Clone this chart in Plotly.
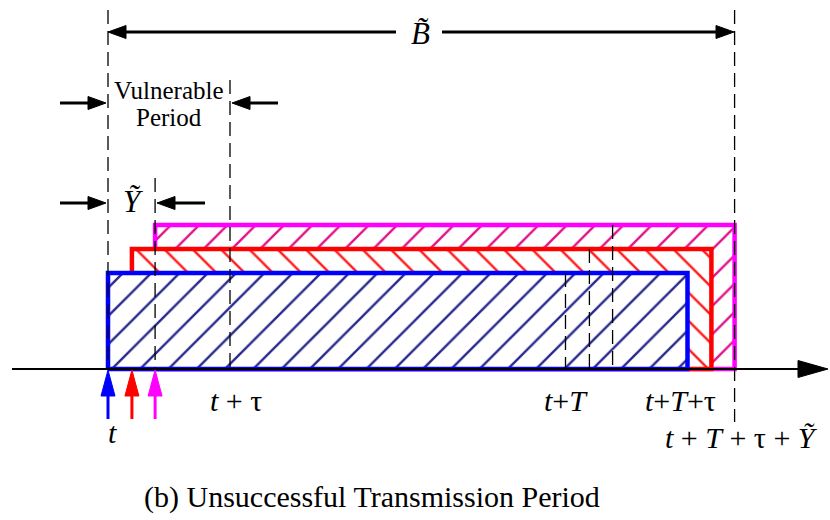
import math
import plotly.graph_objects as go

# ---- timing quantities (one unit = one time slot) ----
tau = 5.0                 # propagation delay
T = 18.75                 # packet transmission time
y_tilde = 1.93            # last colliding start offset
start_offsets = [0.0, 0.98, 1.93]      # blue, red, magenta packet starts
packet_heights = [4.0, 5.0, 6.0]       # drawing heights of the stacked packets
packet_names = ["packet 1", "packet 2", "packet 3"]
outline_colors = ["#0000ff", "#ff0000", "#ff00ff"]
hatch_colors = ["#2a2a8c", "#ff1a1a", "#e0148a"]
hatch_shapes = ["/", "\\", "/"]

# ---- canvas / scale ----
W, H = 830, 520
X0_PX, AXIS_PX = 108, 369
SX, SY = 24.4, 24.0


def dx(px):
    return (px - X0_PX) / SX


def dy(py):
    return (AXIS_PX - py) / SY


fig = go.Figure()

# packets, drawn back to front so the outer L-shaped hatch stays visible
for i in reversed(range(3)):
    s = start_offsets[i]
    e = s + T + tau
    h = packet_heights[i]
    fig.add_trace(go.Scatter(
        x=[s, e, e, s, s], y=[0, 0, h, h, 0],
        mode="lines", fill="toself", name=packet_names[i],
        line=dict(color=outline_colors[i], width=4.5),
        fillcolor="white",
        fillpattern=dict(shape=hatch_shapes[i], fgcolor=hatch_colors[i],
                         fgopacity=1, bgcolor="white", size=20, solidity=0.12),
        hoverinfo="skip", showlegend=False,
    ))

shapes = []
DASH = "14px,7px"


def vdash(x, y_top, y_bot):
    shapes.append(dict(type="line", x0=x, x1=x, y0=y_top, y1=y_bot,
                       line=dict(color="black", width=1.3, dash=DASH)))


end_time = T + tau + y_tilde
vdash(0.0, dy(10), 0)
vdash(tau, dy(80), 0)
vdash(y_tilde, dy(178), 0)
vdash(end_time, dy(10), dy(422))
for s, h in zip(start_offsets, packet_heights):
    vdash(s + T, h, 0)


def arrow(x_from, y_from, x_to, y_to, color="black", width=3, head_len=16, head_half=6):
    """Arrow in pixel coordinates, converted to data coordinates."""
    L = math.hypot(x_to - x_from, y_to - y_from)
    ux, uy = (x_to - x_from) / L, (y_to - y_from) / L
    bx, by = x_to - ux * head_len, y_to - uy * head_len
    shapes.append(dict(type="line", x0=dx(x_from), y0=dy(y_from), x1=dx(bx), y1=dy(by),
                       line=dict(color=color, width=width)))
    px_, py_ = -uy, ux
    pts = [(x_to, y_to), (bx + px_ * head_half, by + py_ * head_half),
           (bx - px_ * head_half, by - py_ * head_half)]
    path = "M " + " L ".join(f"{dx(a):.4f},{dy(b):.4f}" for a, b in pts) + " Z"
    shapes.append(dict(type="path", path=path, fillcolor=color,
                       line=dict(color=color, width=1)))


# time axis
shapes.append(dict(type="line", x0=dx(12), x1=dx(800), y0=0, y1=0,
                   line=dict(color="black", width=2)))
arrow(790, AXIS_PX, 828, AXIS_PX, width=2, head_len=30, head_half=8.5)

# busy period B
arrow(396, 32, 108, 32, head_len=18, head_half=6.5)
arrow(442, 32, 734, 32, head_len=18, head_half=6.5)

# vulnerable period
arrow(60, 103, 106, 103, head_len=18, head_half=6.5)
arrow(278, 103, 232, 103, head_len=18, head_half=6.5)

# Y offset
arrow(60, 203, 106, 203, head_len=18, head_half=6.5)
arrow(205, 203, 157, 203, head_len=18, head_half=6.5)

# packet arrival arrows
for s, c in zip(start_offsets, outline_colors):
    xp = X0_PX + s * SX
    arrow(xp, 419, xp, 370, color=c, width=3, head_len=26, head_half=7)

SERIF = "Liberation Serif, Times New Roman, serif"
annotations = []


def label(x_px, y_px, text, size=30):
    annotations.append(dict(x=dx(x_px), y=dy(y_px), text=text, showarrow=False,
                            font=dict(family=SERIF, size=size, color="black"),
                            xanchor="center", yanchor="middle"))


label(420, 33, "<i>B\u0303</i>", 31)
label(133, 201, "<i>Y\u0303</i>", 31)
label(169, 90, "Vulnerable", 25)
label(169, 117, "Period", 25)
label(112, 432, "<i>t</i>", 30)
label(236, 400, "<i>t</i> + τ", 30)
label(566, 400, "<i>t</i>+<i>T</i>", 30)
label(680, 400, "<i>t</i>+<i>T</i>+τ", 30)
label(741, 437, "<i>t</i> + <i>T</i> + τ + <i>Y\u0303</i>", 30)
label(372, 497, "(b) Unsuccessful Transmission Period", 30)

fig.update_layout(
    width=W, height=H,
    margin=dict(l=0, r=0, t=0, b=0),
    paper_bgcolor="white", plot_bgcolor="white",
    xaxis=dict(range=[dx(0), dx(W)], visible=False, fixedrange=True),
    yaxis=dict(range=[dy(H), dy(0)], visible=False, fixedrange=True),
    shapes=shapes, annotations=annotations,
    showlegend=False,
)

fig.write_html("out.html")
